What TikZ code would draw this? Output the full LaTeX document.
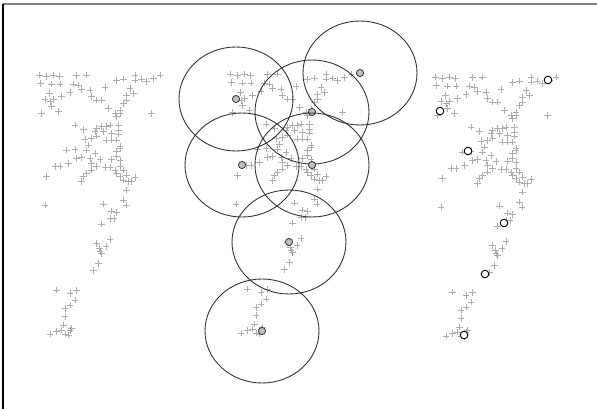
\documentclass[tikz,border=0pt]{standalone}
\usepackage{tikz}

% sample points of the left copy (pixel units)
\newcommand{\samplepts}{39.3/75, 46.7/76.7, 53.3/75, 59.3/76.7, 76.7/75.7, 86.7/75,
  40.7/83.3, 51.7/84, 60/84, 73.3/84, 78.3/85, 116.7/80.7, 123.3/79, 135/75, 135/80,
  141.7/79, 146.7/81.7, 153.3/78.3, 160/75, 49.3/93.3, 70/92.7, 81.7/89.3, 90/90,
  105/87.7, 130/88.3, 126.7/95, 133.3/93.3, 45/99.3, 53.3/99.3, 61.7/96.7, 91.7/96.7,
  96.7/100, 101.7/100, 126.7/100, 123.3/103.3, 50/101.7, 51.7/106.7, 41.7/113.3,
  58.3/111.7, 108.3/108.3, 115/113.3, 120/113.3, 120/110, 116.7/116.7, 151.7/113.3,
  75/125, 83.3/129.3, 96.7/128.3, 101.7/126.7, 106.7/126.7, 110/125, 118.3/125,
  118.3/130, 95/131.7, 103.3/131.7, 111.7/133.3, 118.3/134, 85/139.3, 91.7/138.3,
  96.7/136, 106.7/140, 111.7/140, 116.7/140, 88.3/145, 120/146.7, 66.7/150, 75/149.3,
  86.7/150, 95/153.3, 116.7/151.7, 120/148.3, 76.7/158.3, 81.7/157.3, 90/158.3,
  100/159.3, 111.7/159.3, 116.7/156.7, 120/160, 55/166.7, 60/166.7, 68.3/163.3,
  91.7/163.3, 96.7/166.7, 105/167.3, 110/167.3, 115/170, 120/166.7, 123.3/170,
  46.7/176.7, 83.3/176.7, 86.7/173.3, 91.7/170, 116.7/173.3, 120/176.7, 126.7/175,
  135/177.3, 123.3/180, 128.3/181.7, 131.7/181.7, 81.7/181.7, 126.7/190, 45/205,
  103.3/204, 123.3/200, 126/205, 111.7/211, 116.7/212.7, 110/218.3, 114/218.3,
  101.7/224, 110/239.3, 96.7/243.3, 99.3/248.3, 106/246.7, 100/251.7, 101.7/253.3,
  98.3/263.3, 93.3/270.7, 56.7/290, 70/293.3, 76.7/290.7, 75/300, 70/305, 65/308.3,
  65/316.7, 63.3/325, 50/334, 56.7/331.7, 61.7/330, 65/334, 70/330.7, 71.7/328.3,
  68.3/335}

\begin{document}
\begin{tikzpicture}[x=1pt, y=-1pt,
    plusmark/.style={black!32, line width=0.6pt},
    ring/.style={draw=black!80, line width=0.9pt},
    centre/.style={draw=black!80, fill=black!25, line width=0.8pt},
    seed/.style={draw=black, fill=white, line width=0.9pt}
]
\useasboundingbox (0,0) rectangle (597,409);

% frame
\draw[black!50, line width=1.2pt] (3,4) -- (597,4);
\draw[black, line width=1.2pt] (3,4) -- (3,409);

% three copies of the sample points
\foreach \dx/\dy in {0/0, 191/-1, 396/2} {
  \foreach \px/\py in \samplepts {
    \draw[plusmark] (\px+\dx-3.4,\py+\dy) -- (\px+\dx+3.4,\py+\dy)
                    (\px+\dx,\py+\dy-3.4) -- (\px+\dx,\py+\dy+3.4);
  }
}

% middle copy: centres and their ranges
\foreach \cx/\cy in {236/99, 360/73, 312/112, 242/165, 312/165, 289/242, 262/331} {
  \draw[ring] (\cx,\cy) ellipse [x radius=57, y radius=52];
  \draw[centre] (\cx,\cy) circle [radius=3.6];
}

% right copy: seeds
\foreach \sx/\sy in {548/80, 440/111, 468/151, 504/223, 485/274, 464/335} {
  \draw[seed] (\sx,\sy) circle [radius=3.8];
}

\end{tikzpicture}
\end{document}
